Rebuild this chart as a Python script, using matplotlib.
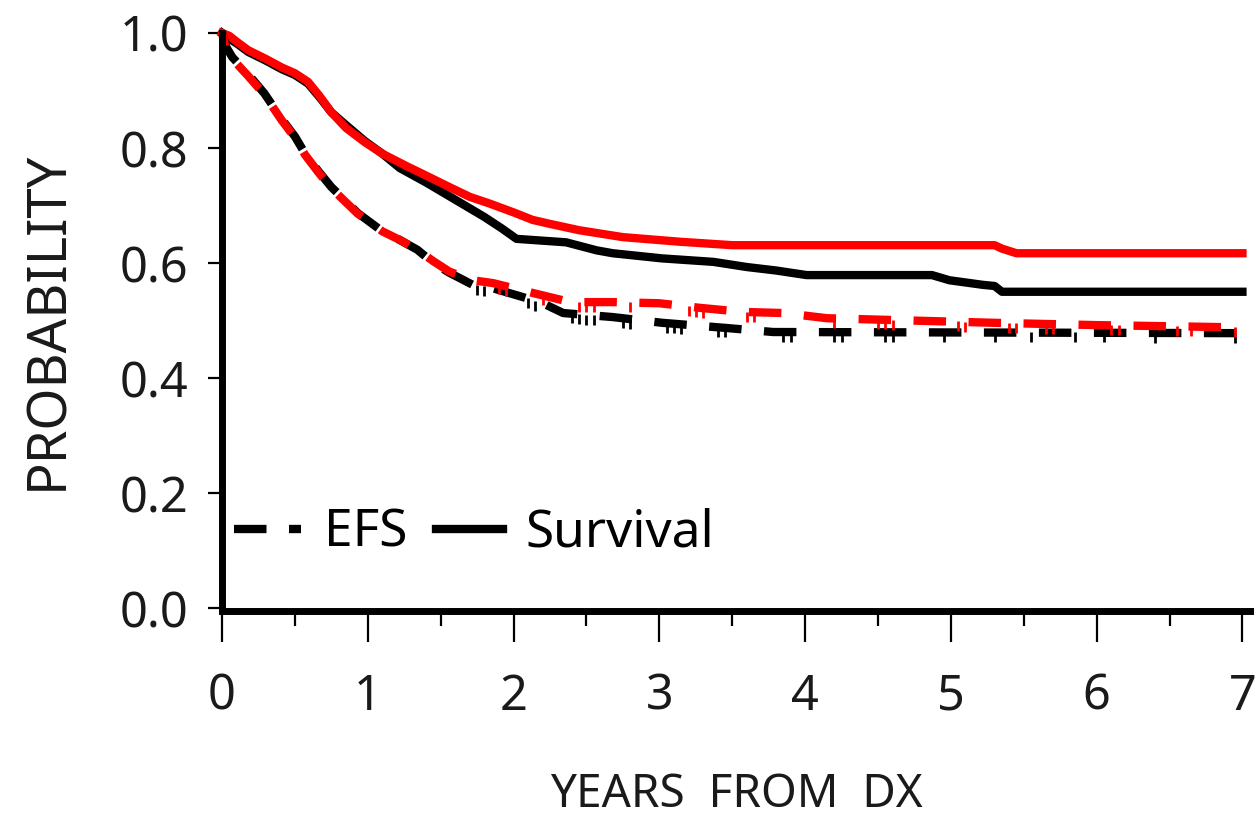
import numpy as np
import matplotlib.pyplot as plt
from matplotlib.lines import Line2D

# Kaplan-Meier estimates (years from diagnosis, probability)
os_red_t = [0, 0.05, 0.1, 0.18, 0.3, 0.41, 0.5, 0.59, 0.67, 0.75, 0.85, 0.98, 1.1, 1.27, 1.4,
            1.56, 1.7, 1.84, 2.0, 2.13, 2.25, 2.45, 2.75, 3.14, 3.5, 5.3, 5.35, 5.45, 7.0]
os_red_s = [1.0, 0.995, 0.985, 0.97, 0.955, 0.94, 0.93, 0.915, 0.89, 0.862, 0.835, 0.81, 0.79, 0.768,
            0.752, 0.732, 0.715, 0.703, 0.688, 0.675, 0.668, 0.657, 0.645, 0.637, 0.631, 0.631,
            0.625, 0.617, 0.617]

os_blk_t = [0, 0.05, 0.1, 0.18, 0.3, 0.41, 0.5, 0.59, 0.67, 0.75, 0.85, 0.98, 1.1, 1.22, 1.4, 1.56,
            1.7, 1.8, 1.92, 2.02, 2.36, 2.57, 2.68, 3.02, 3.37, 3.6, 3.8, 4.01, 4.87, 4.99,
            5.22, 5.3, 5.35, 7.0]
os_blk_s = [1.0, 0.99, 0.982, 0.967, 0.952, 0.937, 0.927, 0.912, 0.888, 0.862, 0.84, 0.812, 0.79, 0.765,
            0.74, 0.716, 0.695, 0.68, 0.66, 0.642, 0.636, 0.622, 0.617, 0.608, 0.602, 0.593, 0.587,
            0.579, 0.579, 0.570, 0.562, 0.56, 0.55, 0.55]

efs_blk_t = [0, 0.03, 0.07, 0.18, 0.29, 0.41, 0.5, 0.57, 0.66, 0.75, 0.84, 0.93, 1.1, 1.22, 1.34,
             1.45, 1.56, 1.72, 1.86, 2.06, 2.2, 2.34, 2.68, 3.02, 3.46, 3.78, 7.0]
efs_blk_s = [1.0, 0.975, 0.958, 0.928, 0.895, 0.85, 0.82, 0.79, 0.76, 0.732, 0.71, 0.687, 0.655, 0.64,
             0.623, 0.6, 0.583, 0.562, 0.556, 0.541, 0.53, 0.513, 0.506, 0.496, 0.487, 0.48, 0.478]

efs_red_t = [0, 0.03, 0.07, 0.18, 0.29, 0.41, 0.5, 0.57, 0.66, 0.75, 0.84, 0.93, 1.1, 1.22, 1.34,
             1.45, 1.56, 1.72, 1.86, 2.13, 2.39, 2.68, 3.0, 3.28, 3.57, 3.85, 4.15, 5.3, 6.0, 7.0]
efs_red_s = [1.0, 0.97, 0.955, 0.925, 0.893, 0.848, 0.818, 0.788, 0.758, 0.73, 0.708, 0.686, 0.655,
             0.64, 0.623, 0.603, 0.585, 0.57, 0.565, 0.548, 0.532, 0.532, 0.53, 0.522, 0.515, 0.513,
             0.504, 0.496, 0.492, 0.488]

# censored observations on the EFS curves
cens_blk = [1.75, 1.8, 2.1, 2.15, 2.4, 2.45, 2.5, 2.55, 2.75, 2.8, 3.05, 3.1, 3.15, 3.4, 3.45,
            3.85, 3.9, 4.2, 4.25, 4.55, 4.6, 4.95, 5.3, 5.55, 5.85, 6.05, 6.4, 6.95]
cens_red = [1.9, 1.95, 2.2, 2.45, 2.5, 2.55, 2.8, 3.2, 3.25, 3.3, 3.6, 3.65, 4.2, 4.5, 4.55, 4.6,
            5.05, 5.1, 5.4, 5.45, 5.65, 5.7, 6.1, 6.15, 6.55, 6.65, 6.95]

plt.rcParams['font.family'] = ['Noto Sans', 'DejaVu Sans']

fig = plt.figure(figsize=(12.56, 8.25), dpi=100)
ax = fig.add_axes([0.1768, 0.263, 0.8182, 0.697])

lw = 6.0
efs_dash = (3.9, 2.7)
ax.plot(os_blk_t, os_blk_s, color='black', lw=lw, clip_on=False)
ax.plot(os_red_t, os_red_s, color='#ff0000', lw=lw, clip_on=False)
ax.plot(efs_blk_t, efs_blk_s, color='black', lw=lw, linestyle=(0, efs_dash), clip_on=False)
ax.plot(efs_red_t, efs_red_s, color='#ff0000', lw=lw, linestyle=(2.3, efs_dash), clip_on=False)

# censor ticks hang just below the EFS lines
ax.plot(cens_blk, np.interp(cens_blk, efs_blk_t, efs_blk_s) - 0.008, ls='none', marker='|',
        ms=7, mew=2, color='black')
ax.plot(cens_red, np.interp(cens_red, efs_red_t, efs_red_s) - 0.008, ls='none', marker='|',
        ms=7, mew=2, color='#ff0000')

ax.set_xlim(0, 7.05)
ax.set_ylim(0, 1.0)
ax.set_xticks(range(8))
ax.set_xticks(np.arange(0.5, 7, 1.0), minor=True)
ax.set_yticks([0, 0.2, 0.4, 0.6, 0.8, 1.0])
ax.set_yticklabels(['0.0', '0.2', '0.4', '0.6', '0.8', '1.0'])

for side in ['top', 'right']:
    ax.spines[side].set_visible(False)
ax.spines['left'].set_linewidth(5)
ax.spines['bottom'].set_linewidth(5)
ax.spines['bottom'].set_position(('outward', 2))

ax.tick_params(axis='y', direction='out', length=10, width=1.6, pad=14, labelsize=35)
ax.tick_params(axis='x', which='major', direction='out', length=22, width=1.6, pad=22,
               labelsize=35)
ax.tick_params(axis='x', which='minor', direction='out', length=11, width=1.6)
for lab in ax.get_xticklabels() + ax.get_yticklabels():
    lab.set_color('#1a1a1a')

ax.set_ylabel('PROBABILITY', fontsize=39, labelpad=32, color='#1a1a1a')
ax.set_xlabel('YEARS  FROM  DX', fontsize=33, labelpad=36, color='#1a1a1a')

handles = [Line2D([], [], color='black', lw=lw, linestyle=(0, efs_dash)),
           Line2D([], [], color='black', lw=lw)]
ax.legend(handles, ['EFS', 'Survival'], ncol=2, frameon=False, fontsize=37,
          loc='center left', bbox_to_anchor=(0.012, 0.13), borderaxespad=0, borderpad=0,
          handlelength=1.3, handletextpad=0.45, columnspacing=0.55)

fig.savefig('out.png', dpi=100)
